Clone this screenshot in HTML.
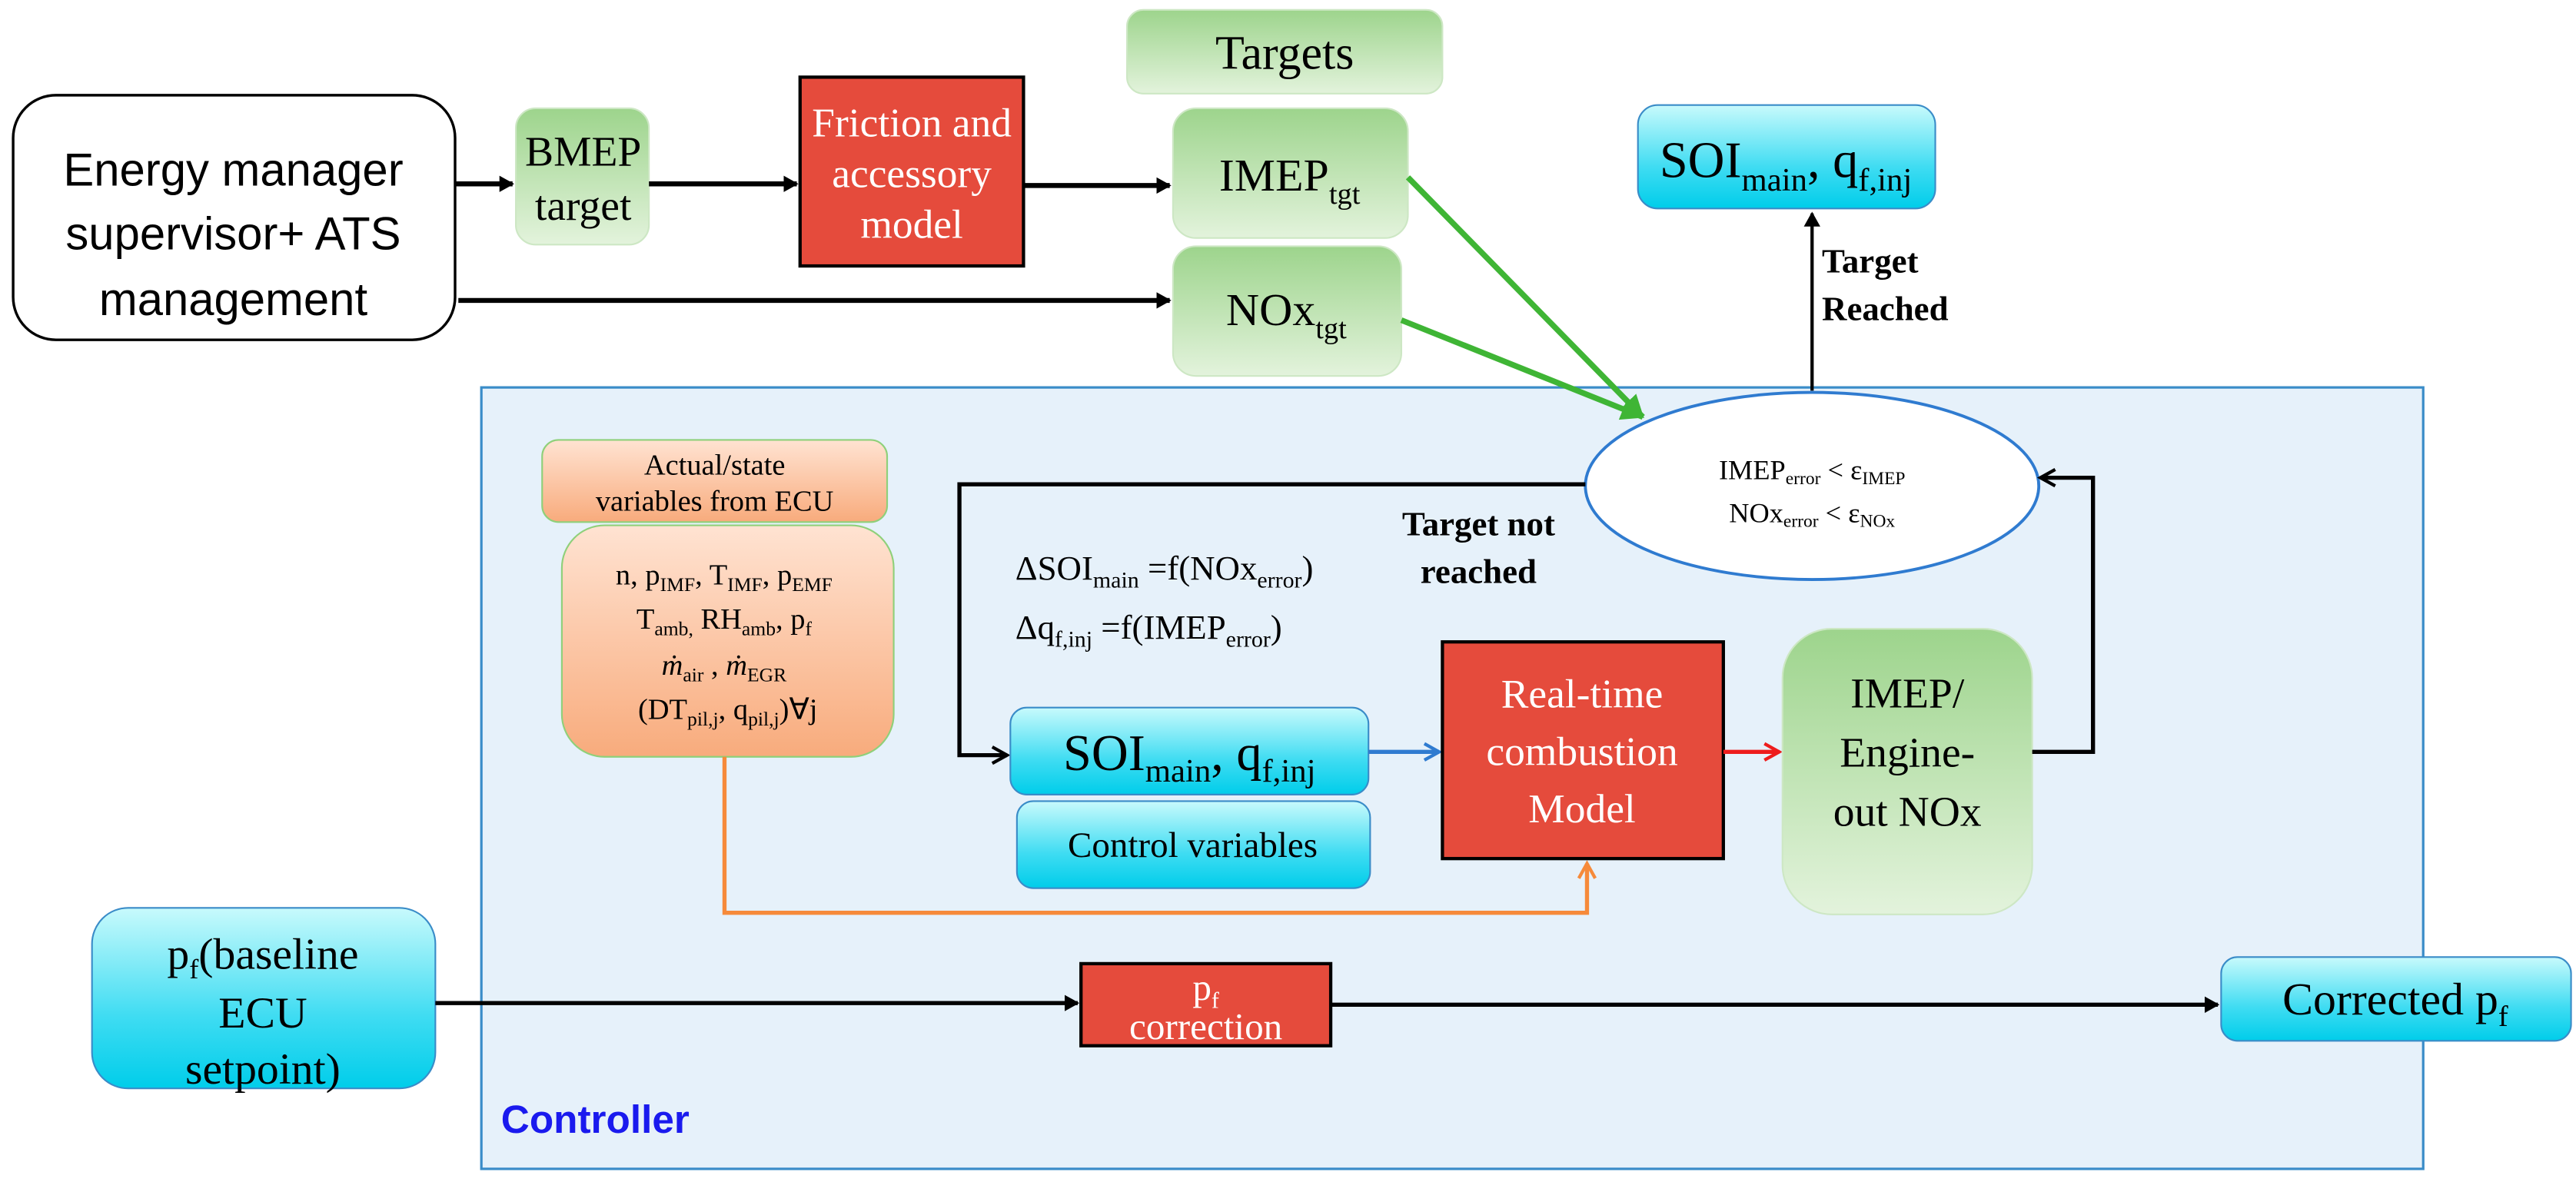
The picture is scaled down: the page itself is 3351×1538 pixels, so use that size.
<!DOCTYPE html>
<html><head><meta charset="utf-8"><style>
html,body{margin:0;padding:0;background:#fff;}
svg{display:block;}
.s{font-family:"Liberation Serif",serif;}
.a{font-family:"Liberation Sans",sans-serif;}
</style></head><body>
<svg width="3351" height="1538" viewBox="0 0 1568 720" preserveAspectRatio="none" xmlns="http://www.w3.org/2000/svg">
<defs>
<linearGradient id="g" x1="0" y1="0" x2="0" y2="1"><stop offset="0" stop-color="#9dd48c"/><stop offset="1" stop-color="#e3f3dc"/></linearGradient>
<linearGradient id="c" x1="0" y1="0" x2="0" y2="1"><stop offset="0" stop-color="#c8fafc"/><stop offset="0.6" stop-color="#3fdcf2"/><stop offset="1" stop-color="#00cdea"/></linearGradient>
<linearGradient id="o" x1="0" y1="0" x2="0" y2="1"><stop offset="0" stop-color="#ffe3d2"/><stop offset="1" stop-color="#f8ab7c"/></linearGradient>
<marker id="ak" markerWidth="10" markerHeight="10" refX="8" refY="5" orient="auto" markerUnits="userSpaceOnUse"><path d="M0,0 L9,5 L0,10 z" fill="#000"/></marker>
<marker id="ao" markerWidth="12" markerHeight="12" refX="10" refY="6" orient="auto" markerUnits="userSpaceOnUse"><path d="M1,1 L10,6 L1,11" fill="none" stroke="#000" stroke-width="2"/></marker>
<marker id="ab" markerWidth="12" markerHeight="12" refX="10" refY="6" orient="auto" markerUnits="userSpaceOnUse"><path d="M1,1 L10,6 L1,11" fill="none" stroke="#2f7bd0" stroke-width="2"/></marker>
<marker id="ar" markerWidth="12" markerHeight="12" refX="10" refY="6" orient="auto" markerUnits="userSpaceOnUse"><path d="M1,1 L10,6 L1,11" fill="none" stroke="#ee1c1c" stroke-width="2"/></marker>
<marker id="aor" markerWidth="12" markerHeight="12" refX="10" refY="6" orient="auto" markerUnits="userSpaceOnUse"><path d="M1,1 L10,6 L1,11" fill="none" stroke="#f68a3a" stroke-width="2"/></marker>
<marker id="ag" markerWidth="16" markerHeight="16" refX="13" refY="8" orient="auto" markerUnits="userSpaceOnUse"><path d="M0,1 L14,8 L0,15 z" fill="#3fb535"/></marker>
</defs>

<rect x="293" y="236" width="1182" height="476" fill="#e6f1fa" stroke="#3a8cc8" stroke-width="1.5"/>
<text x="305" y="690" class="a" font-size="24" font-weight="bold" fill="#1a1aee">Controller</text>

<rect x="8" y="58" width="269" height="149" rx="26" fill="#fff" stroke="#000" stroke-width="1.6"/>
<text class="a" font-size="28" text-anchor="middle"><tspan x="142" y="113">Energy manager</tspan><tspan x="142" y="152">supervisor+ ATS</tspan><tspan x="142" y="192">management</tspan></text>

<rect x="314" y="66" width="81" height="83" rx="12" fill="url(#g)" stroke="#cde7c4"/>
<text class="s" font-size="26" text-anchor="middle"><tspan x="355" y="101">BMEP</tspan><tspan x="355" y="134">target</tspan></text>

<rect x="487" y="47" width="136" height="115" fill="#e54b3c" stroke="#000" stroke-width="2"/>
<text class="s" font-size="25" fill="#fff" text-anchor="middle"><tspan x="555" y="83">Friction and</tspan><tspan x="555" y="114">accessory</tspan><tspan x="555" y="145">model</tspan></text>

<rect x="686" y="6" width="192" height="51" rx="10" fill="url(#g)" stroke="#cde7c4"/>
<text x="782" y="42" class="s" font-size="29" text-anchor="middle">Targets</text>
<rect x="714" y="66" width="143" height="79" rx="14" fill="url(#g)" stroke="#cde7c4"/>
<text x="785" y="116" class="s" font-size="28" text-anchor="middle">IMEP<tspan font-size="18" dy="8">tgt</tspan></text>
<rect x="714" y="150" width="139" height="79" rx="14" fill="url(#g)" stroke="#cde7c4"/>
<text x="783" y="198" class="s" font-size="28" text-anchor="middle">NOx<tspan font-size="18" dy="8">tgt</tspan></text>

<line x1="277" y1="112" x2="312" y2="112" stroke="#000" stroke-width="3" marker-end="url(#ak)"/>
<line x1="395" y1="112" x2="485" y2="112" stroke="#000" stroke-width="3" marker-end="url(#ak)"/>
<line x1="623" y1="113" x2="712" y2="113" stroke="#000" stroke-width="3" marker-end="url(#ak)"/>
<line x1="279" y1="183" x2="712" y2="183" stroke="#000" stroke-width="3" marker-end="url(#ak)"/>

<line x1="857" y1="108" x2="1000" y2="254" stroke="#3fb535" stroke-width="3.5" marker-end="url(#ag)"/>
<line x1="853" y1="195" x2="1000" y2="254" stroke="#3fb535" stroke-width="3.5" marker-end="url(#ag)"/>

<rect x="997" y="64" width="181" height="63" rx="12" fill="url(#c)" stroke="#3a8cc8"/>
<text x="1087" y="108" class="s" font-size="31" text-anchor="middle">SOI<tspan font-size="20" dy="8">main</tspan><tspan dy="-8">, q</tspan><tspan font-size="20" dy="8">f,inj</tspan></text>
<line x1="1103" y1="238" x2="1103" y2="130" stroke="#000" stroke-width="2" marker-end="url(#ak)"/>
<text class="s" font-size="21" font-weight="bold"><tspan x="1109" y="166">Target</tspan><tspan x="1109" y="195">Reached</tspan></text>

<ellipse cx="1103" cy="296" rx="138" ry="57" fill="#fff" stroke="#2f7bd0" stroke-width="1.8"/>
<text class="s" font-size="17" text-anchor="middle"><tspan x="1103" y="292">IMEP<tspan font-size="11" dy="3">error</tspan><tspan dy="-3"> &lt; ε</tspan><tspan font-size="11" dy="3">IMEP</tspan></tspan><tspan x="1103" y="318">NOx<tspan font-size="11" dy="3">error</tspan><tspan dy="-3"> &lt; ε</tspan><tspan font-size="11" dy="3">NOx</tspan></tspan></text>

<polyline points="965,295 584,295 584,460 613,460" fill="none" stroke="#000" stroke-width="2.5" marker-end="url(#ao)"/>
<text class="s" font-size="21" font-weight="bold" text-anchor="middle"><tspan x="900" y="326">Target not</tspan><tspan x="900" y="355">reached</tspan></text>

<text x="618" y="353" class="s" font-size="21">ΔSOI<tspan font-size="14" dy="5">main</tspan><tspan dy="-5">  =f(NOx</tspan><tspan font-size="14" dy="5">error</tspan><tspan dy="-5">)</tspan></text>
<text x="618" y="389" class="s" font-size="21">Δq<tspan font-size="14" dy="5">f,inj</tspan><tspan dy="-5">  =f(IMEP</tspan><tspan font-size="14" dy="5">error</tspan><tspan dy="-5">)</tspan></text>

<rect x="330" y="268" width="210" height="50" rx="10" fill="url(#o)" stroke="#8fd07a"/>
<text class="s" font-size="18" text-anchor="middle"><tspan x="435" y="289">Actual/state</tspan><tspan x="435" y="311">variables  from ECU</tspan></text>
<rect x="342" y="320" width="202" height="141" rx="26" fill="url(#o)" stroke="#8fd07a"/>
<text class="s" font-size="18" text-anchor="middle">
<tspan x="443" y="356">n, p<tspan font-size="12" dy="4">IMF</tspan><tspan dy="-4">, T</tspan><tspan font-size="12" dy="4">IMF</tspan><tspan dy="-4">, p</tspan><tspan font-size="12" dy="4">EMF</tspan></tspan>
<tspan x="443" y="383">T<tspan font-size="12" dy="4">amb,</tspan><tspan dy="-4"> RH</tspan><tspan font-size="12" dy="4">amb</tspan><tspan dy="-4">, p</tspan><tspan font-size="12" dy="4">f</tspan></tspan>
<tspan x="443" y="411"><tspan font-style="italic">ṁ</tspan><tspan font-size="12" dy="4">air</tspan><tspan dy="-4"> , </tspan><tspan font-style="italic">ṁ</tspan><tspan font-size="12" dy="4">EGR</tspan></tspan>
<tspan x="443" y="438">(DT<tspan font-size="12" dy="4">pil,j</tspan><tspan dy="-4">, q</tspan><tspan font-size="12" dy="4">pil,j</tspan><tspan dy="-4">)∀j</tspan></tspan>
</text>

<rect x="615" y="431" width="218" height="53" rx="10" fill="url(#c)" stroke="#3a8cc8"/>
<text x="724" y="469" class="s" font-size="31" text-anchor="middle">SOI<tspan font-size="20" dy="7">main</tspan><tspan dy="-7">, q</tspan><tspan font-size="20" dy="7">f,inj</tspan></text>
<rect x="619" y="488" width="215" height="53" rx="10" fill="url(#c)" stroke="#3a8cc8"/>
<text x="726" y="522" class="s" font-size="22" text-anchor="middle">Control variables</text>
<line x1="833" y1="458" x2="876" y2="458" stroke="#2f7bd0" stroke-width="2.5" marker-end="url(#ab)"/>

<rect x="878" y="391" width="171" height="132" fill="#e54b3c" stroke="#000" stroke-width="2"/>
<text class="s" font-size="25" fill="#fff" text-anchor="middle"><tspan x="963" y="431">Real-time</tspan><tspan x="963" y="466">combustion</tspan><tspan x="963" y="501">Model</tspan></text>
<line x1="1049" y1="458" x2="1083" y2="458" stroke="#ee1c1c" stroke-width="2.5" marker-end="url(#ar)"/>

<rect x="1085" y="383" width="152" height="174" rx="30" fill="url(#g)" stroke="#cde7c4"/>
<text class="s" font-size="26" text-anchor="middle"><tspan x="1161" y="431">IMEP/</tspan><tspan x="1161" y="467">Engine-</tspan><tspan x="1161" y="503">out NOx</tspan></text>
<polyline points="1237,458 1274,458 1274,291 1242,291" fill="none" stroke="#000" stroke-width="2.5" marker-end="url(#ao)"/>

<polyline points="441,461 441,556 966,556 966,526" fill="none" stroke="#f68a3a" stroke-width="2.5" marker-end="url(#aor)"/>

<rect x="56" y="553" width="209" height="110" rx="22" fill="url(#c)" stroke="#3a8cc8"/>
<text class="s" font-size="27" text-anchor="middle"><tspan x="160" y="590">p<tspan font-size="17" dy="6">f</tspan><tspan dy="-6">(baseline</tspan></tspan><tspan x="160" y="626">ECU</tspan><tspan x="160" y="660">setpoint)</tspan></text>
<line x1="265" y1="611" x2="656" y2="611" stroke="#000" stroke-width="2.5" marker-end="url(#ak)"/>

<rect x="658" y="587" width="152" height="50" fill="#e54b3c" stroke="#000" stroke-width="2"/>
<text class="s" font-size="23" fill="#fff" text-anchor="middle"><tspan x="734" y="609">p<tspan font-size="14" dy="5">f</tspan></tspan><tspan x="734" y="633">correction</tspan></text>
<line x1="810" y1="612" x2="1350" y2="612" stroke="#000" stroke-width="2.5" marker-end="url(#ak)"/>

<rect x="1352" y="583" width="213" height="51" rx="10" fill="url(#c)" stroke="#3a8cc8"/>
<text x="1458" y="618" class="s" font-size="28" text-anchor="middle">Corrected p<tspan font-size="18" dy="7">f</tspan></text>
</svg>
</body></html>
